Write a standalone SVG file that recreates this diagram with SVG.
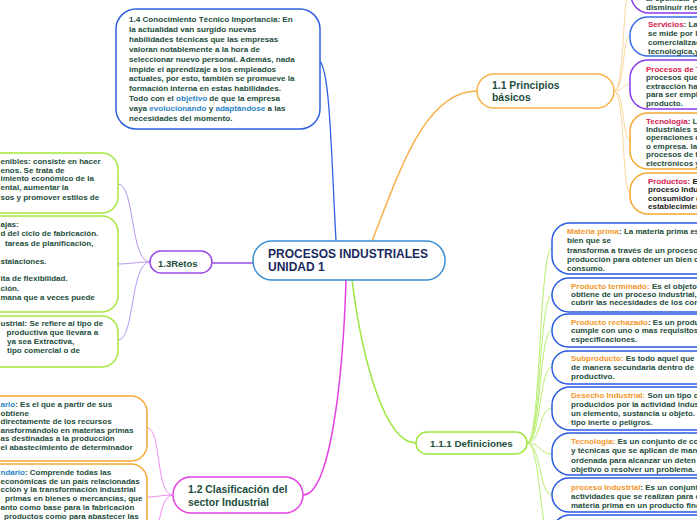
<svg xmlns="http://www.w3.org/2000/svg" width="697" height="520" viewBox="0 0 697 520">
<style>
.t{font-family:"Liberation Sans",Arial,sans-serif;font-weight:bold;font-size:8px;fill:#1d4d3c}
.tl{font-size:8.1px}
.r{fill:#d6204e}
.o{fill:#f5962a}
.b{fill:#2a84c6}
.k{fill:#222222}
.node{fill:#ffffff;stroke-width:1.5}
.box{fill:#ffffff;stroke-width:1.5}
.nt{font-family:"Liberation Sans",Arial,sans-serif;font-weight:bold;fill:#1d4d3c}
.c{fill:none}
</style>
<rect width="697" height="520" fill="#ffffff"/>

<g id="connectors">
  <path class="c" d="M318,60 C330,62 331,150 336,241" stroke="#3060e0" stroke-width="1.3"/>
  <path class="c" d="M212,263 L253,263" stroke="#9a4ae6" stroke-width="1.5"/>
  <g stroke="#b896f0" stroke-width="1" fill="none">
    <path d="M150,262 C130,262 135,184 118,184"/>
    <path d="M150,262 C135,262 130,264 118,264"/>
    <path d="M150,262 C130,262 135,340 118,340"/>
  </g>
  <path class="c" d="M346,280 C343,380 330,495 303,495" stroke="#e540e0" stroke-width="1.5"/>
  <g stroke="#f08cf0" stroke-width="1" fill="none">
    <path d="M173,495 C155,495 162,428 147,428"/>
    <path d="M173,495 C160,495 158,497 147,497"/>
    <path d="M173,495 C155,495 160,560 147,560"/>
  </g>
  <path class="c" d="M352,280 C362,360 385,443 416,443" stroke="#9ee63e" stroke-width="1.5"/>
  <g stroke="#b8ee70" stroke-width="1" fill="none">
    <path d="M527,443 C541,443 539,248 552,248"/>
    <path d="M527,443 C541,443 539,295 552,295"/>
    <path d="M527,443 C541,443 539,330 552,330"/>
    <path d="M527,443 C541,443 539,367 552,367"/>
    <path d="M527,443 C541,443 539,408 552,408"/>
    <path d="M527,443 C541,443 539,454 552,454"/>
    <path d="M527,443 C541,443 539,495 552,495"/>
    <path d="M527,443 C541,443 539,540 552,540"/>
  </g>
  <path class="c" d="M372,241 C400,170 425,91 477,91" stroke="#f7b24a" stroke-width="1.5"/>
  <g stroke="#fcd59a" stroke-width="1" fill="none">
    <path d="M614,91 C625,91 622,-14 631,-14"/>
    <path d="M614,91 C625,91 622,36 630,36"/>
    <path d="M614,91 C625,91 622,84 630,84"/>
    <path d="M614,91 C625,91 622,140 630,140"/>
    <path d="M614,91 C625,91 622,193 630,193"/>
  </g>
</g>

<g id="center">
  <rect class="node" x="253" y="241" width="192" height="39" rx="19" stroke="#3a8fd4"/>
  <text class="nt" x="268" y="257.5" font-size="12" style="fill:#1a2a5e">PROCESOS INDUSTRIALES</text>
  <text class="nt" x="268" y="271" font-size="12" style="fill:#1a2a5e">UNIDAD 1</text>
</g>

<g id="n14">
  <rect class="box" x="116" y="9" width="204" height="120" rx="20" stroke="#3060e0"/>
  <text class="t tl" x="129" y="22">1.4 Conocimiento Técnico Importancia: En</text>
  <text class="t tl" x="129" y="31.9">la actualidad van surgido nuevas</text>
  <text class="t tl" x="129" y="41.8">habilidades técnicas que las empresas</text>
  <text class="t tl" x="129" y="51.7">valoran notablemente a la hora de</text>
  <text class="t tl" x="129" y="61.6">seleccionar nuevo personal. Además, nada</text>
  <text class="t tl" x="129" y="71.5">impide el aprendizaje a los empleados</text>
  <text class="t tl" x="129" y="81.4">actuales, por esto, también se promueve la</text>
  <text class="t tl" x="129" y="91.3">formación interna en estas habilidades.</text>
  <text class="t tl" x="129" y="101.2">Todo con el <tspan class="b">objetivo</tspan> de que la empresa</text>
  <text class="t tl" x="129" y="111.1">vaya <tspan class="b">evolucionando</tspan> y <tspan class="b">adaptándose</tspan> a las</text>
  <text class="t tl" x="129" y="121">necesidades del momento.</text>
</g>

<g id="retos">
  <rect class="node" x="150" y="251" width="62" height="22" rx="11" stroke="#9a4ae6"/>
  <text class="nt" x="158" y="266.5" font-size="9.5">1.3Retos</text>
</g>

<g id="retosA">
  <rect class="box" x="-80" y="153" width="198" height="60" rx="16" stroke="#a5e63c"/>
  <text class="t" x="0.5" y="163.7">enibles: consiste en hacer</text>
  <text class="t" x="0.5" y="172.5">enos. Se trata de</text>
  <text class="t" x="0.5" y="181.3">imiento económico de la</text>
  <text class="t" x="0.5" y="190.3">ental, aumentar la</text>
  <text class="t" x="0.5" y="199.5">sos y promover estilos de</text>
</g>

<g id="retosB">
  <rect class="box" x="-80" y="216" width="198" height="96" rx="16" stroke="#a5e63c"/>
  <text class="t" x="0.5" y="227">ajas:</text>
  <text class="t" x="0.5" y="236.3">d del ciclo de fabricación.</text>
  <text class="t" x="5" y="245.8">tareas de planificación,</text>
  <text class="t" x="0.5" y="263.7">stalaciones.</text>
  <text class="t" x="0.5" y="281.3">ita de flexibilidad.</text>
  <text class="t" x="0.5" y="290.7">ción.</text>
  <text class="t" x="0.5" y="299.7">mana que a veces puede</text>
</g>

<g id="retosC">
  <rect class="box" x="-80" y="316" width="198" height="51" rx="16" stroke="#a5e63c"/>
  <text class="t" x="0.5" y="325.7">ustrial: Se refiere al tipo de</text>
  <text class="t" x="6.5" y="334.7">productiva que llevara a</text>
  <text class="t" x="7" y="343.7">ya sea Extractiva,</text>
  <text class="t" x="7" y="352.7">tipo comercial o de</text>
</g>

<g id="n12">
  <rect class="node" x="173" y="477" width="130" height="36" rx="18" stroke="#e540e0"/>
  <text class="nt" x="188" y="493" font-size="10.4">1.2 Clasificación del</text>
  <text class="nt" x="188" y="505.5" font-size="10.4">sector Industrial</text>
</g>

<g id="primario">
  <rect class="box" x="-60" y="396" width="207" height="65" rx="16" stroke="#f5a833"/>
  <text class="t" x="0.5" y="407"><tspan class="b">ario</tspan>: Es el que a partir de sus</text>
  <text class="t" x="0.5" y="415.5">obtiene</text>
  <text class="t" x="0.5" y="424">directamente de los recursos</text>
  <text class="t" x="0.5" y="432.5">ansformándolo en materias primas</text>
  <text class="t" x="0.5" y="441">as destinadas a la producción</text>
  <text class="t" x="0.5" y="449.5">el abastecimiento de determinador</text>
</g>

<g id="secundario">
  <rect class="box" x="-60" y="464" width="207" height="80" rx="16" stroke="#f5a833"/>
  <text class="t" x="0.5" y="474.7"><tspan class="b">ndario</tspan>: Comprende todas las</text>
  <text class="t" x="0.5" y="483.5">económicas de un país relacionadas</text>
  <text class="t" x="0.5" y="492.3">cción y la transformación industrial</text>
  <text class="t" x="5" y="501">primas en bienes o mercancías, que</text>
  <text class="t" x="0.5" y="509.8">anto como base para la fabricación</text>
  <text class="t" x="4" y="518.6">productos como para abastecer las</text>
</g>

<g id="n11">
  <rect class="node" x="477" y="74" width="137" height="34" rx="17" stroke="#f7b24a"/>
  <text class="nt" x="492" y="89" font-size="10.4">1.1 Principios</text>
  <text class="nt" x="492" y="101" font-size="10.4">básicos</text>
</g>

<g id="top11">
  <rect class="box" x="631" y="-40" width="120" height="53" rx="18" stroke="#8a3ae8"/>
  <text class="t" x="646" y="1">al optimizar pr</text>
  <text class="t" x="646" y="9.7">disminuir riesg</text>
</g>

<g id="servicios">
  <rect class="box" x="630" y="17" width="120" height="39" rx="18" stroke="#3a6ae8"/>
  <text class="t" x="648" y="27"><tspan class="r">Servicios</tspan>: La</text>
  <text class="t" x="648" y="36">se mide por la</text>
  <text class="t" x="648" y="45">comercializac</text>
  <text class="t" x="648" y="54">tecnológica,y</text>
</g>

<g id="procesosT">
  <rect class="box" x="630" y="60" width="120" height="49" rx="18" stroke="#8a3ae8"/>
  <text class="t" x="646" y="72"><tspan class="r">Procesos de T</tspan></text>
  <text class="t" x="646" y="80.4">procesos que s</text>
  <text class="t" x="646" y="88.8">extracción has</text>
  <text class="t" x="646" y="97.2">para ser emple</text>
  <text class="t" x="646" y="105.6">producto.</text>
</g>

<g id="tecnologia11">
  <rect class="box" x="630" y="113" width="120" height="56" rx="18" stroke="#f5a833"/>
  <text class="t" x="646" y="123.7"><tspan class="r">Tecnología</tspan>: La</text>
  <text class="t" x="646" y="132">Industriales se</text>
  <text class="t" x="646" y="140.4">operaciones q</text>
  <text class="t" x="646" y="148.8">o empresa. las</text>
  <text class="t" x="646" y="157.2">procesos de fa</text>
  <text class="t" x="646" y="165.5">electrónicos y</text>
</g>

<g id="productos">
  <rect class="box" x="630" y="173" width="120" height="41" rx="18" stroke="#f5a833"/>
  <text class="t k" x="648" y="184"><tspan class="r">Productos:</tspan> El</text>
  <text class="t k" x="648" y="192.3">proceso Indus</text>
  <text class="t k" x="648" y="200.7">consumidor d</text>
  <text class="t k" x="648" y="209">establecimien</text>
</g>

<g id="n111">
  <rect class="node" x="416" y="432" width="111" height="22" rx="11" stroke="#9ee63e"/>
  <text class="nt" x="430" y="446.5" font-size="9.8">1.1.1 Definiciones</text>
</g>

<g id="materia">
  <rect class="box" x="552" y="223" width="200" height="51" rx="18" stroke="#2a5ae0"/>
  <text class="t" x="567" y="234"><tspan class="o">Materia prima</tspan>: La materia prima es</text>
  <text class="t" x="567" y="243.3">bien que se</text>
  <text class="t" x="567" y="252.6">transforma a través de un proceso</text>
  <text class="t" x="567" y="261.9">producción para obtener un bien c</text>
  <text class="t" x="567" y="271">consumo.</text>
</g>

<g id="terminado">
  <rect class="box" x="552" y="278" width="200" height="34" rx="17" stroke="#2a5ae0"/>
  <text class="t" x="571" y="288.7"><tspan class="o">Producto terminado:</tspan> Es el objeto</text>
  <text class="t" x="571" y="297">obtiene de un proceso industrial,</text>
  <text class="t" x="571" y="305.3">cubrir las necesidades de los con</text>
</g>

<g id="rechazado">
  <rect class="box" x="552" y="314" width="200" height="33" rx="16" stroke="#2a5ae0"/>
  <text class="t" x="571" y="324.7"><tspan class="o">Producto rechazado</tspan>: Es un produ</text>
  <text class="t" x="571" y="333.3">cumple con uno o mas requisitos</text>
  <text class="t" x="571" y="341.7">especificaciones.</text>
</g>

<g id="subproducto">
  <rect class="box" x="552" y="351" width="200" height="33" rx="16" stroke="#2a5ae0"/>
  <text class="t" x="571" y="361.3"><tspan class="o">Subproducto:</tspan> Es todo aquel que</text>
  <text class="t" x="571" y="370">de manera secundaria dentro de</text>
  <text class="t" x="571" y="378.7">productivo.</text>
</g>

<g id="desecho">
  <rect class="box" x="552" y="387" width="200" height="43" rx="18" stroke="#2a5ae0"/>
  <text class="t" x="571" y="398"><tspan class="o">Desecho Industrial:</tspan> Son un tipo d</text>
  <text class="t" x="571" y="407">producidos por la actividad indus</text>
  <text class="t" x="571" y="416">un elemento, sustancia u objeto.</text>
  <text class="t" x="571" y="425">tipo inerte o peligros.</text>
</g>

<g id="tecnologia">
  <rect class="box" x="552" y="433" width="200" height="42" rx="18" stroke="#2a5ae0"/>
  <text class="t" x="571" y="444"><tspan class="o">Tecnología:</tspan> Es un conjunto de co</text>
  <text class="t" x="571" y="453.3">y técnicas que se aplican de man</text>
  <text class="t" x="571" y="462.5">ordenada  para alcanzar un deten</text>
  <text class="t" x="571" y="471.7">objetivo o resolver un problema.</text>
</g>

<g id="procesoInd">
  <rect class="box" x="552" y="478" width="200" height="34" rx="17" stroke="#2a5ae0"/>
  <text class="t" x="571" y="489.7"><tspan class="o">proceso Industrial</tspan>: Es un conjunt</text>
  <text class="t" x="571" y="499">actividades que se realizan para e</text>
  <text class="t" x="571" y="508">materia prima en un producto fina</text>
</g>

<g id="nextDef">
  <rect class="box" x="552" y="515" width="200" height="40" rx="18" stroke="#2a5ae0"/>
</g>
</svg>
